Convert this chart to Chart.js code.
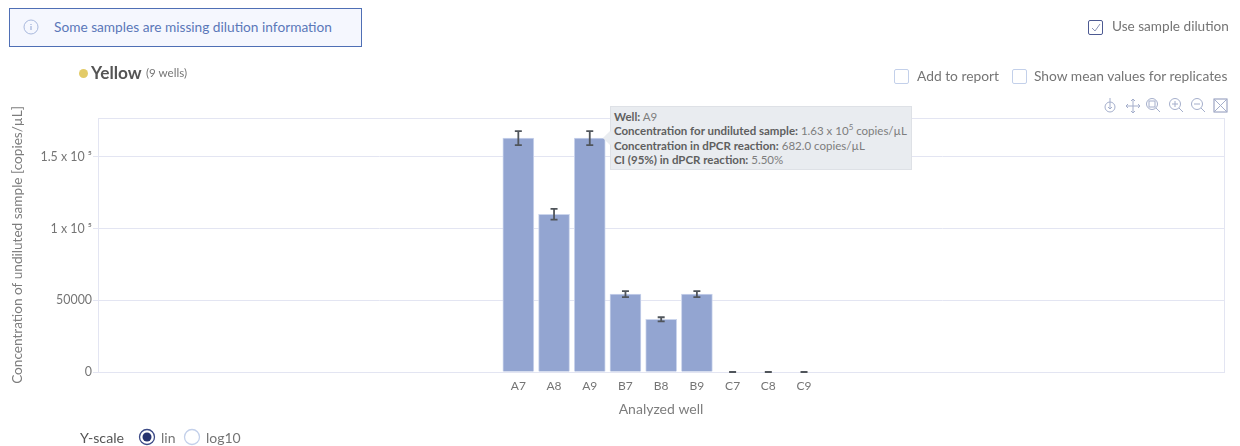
<!doctype html>
<html>

<head>
    <title>Analyzed well concentration</title>
    <script src="https://cdn.jsdelivr.net/npm/chart.js@4"></script>
    <style>
    html, body { margin: 0; padding: 0; background: #fff; overflow: hidden; }
    body { width: 1240px; height: 446px; position: relative; font-family: Lato, "Open Sans", sans-serif; color: #757575; }
    canvas { position: absolute; left: 0; top: 0; }
    .abs { position: absolute; white-space: nowrap; }
    .box { position: absolute; width: 13px; height: 13px; border: 1.5px solid #c3d0ea; border-radius: 2px; box-sizing: content-box; }
    .alert { left: 9px; top: 8px; width: 351px; height: 37px; border: 1px solid #4f6fb5; background: #f5f7fe; }
    .tip { left: 610px; top: 106px; background: #e9ecf0; border: 1px solid #dee1e6; font-size: 11.5px; line-height: 14.4px; color: #7d7d7d; padding: 3px 0 0 3px; box-sizing: border-box; width: 302px; height: 64px; }
    .tip b { color: #5f5f5f; }
    .tip sup { font-size: 8px; line-height: 0; }
    .tip:before { content: ""; position: absolute; left: -6px; top: 26px; width: 10px; height: 10px; background: #e9ecf0; transform: rotate(45deg); }
    .tip div { position: relative; }
    </style>
</head>

<body>
    <canvas id="canvas" width="1240" height="446"></canvas>

    <div class="abs alert"></div>
    <svg class="abs" style="left:23px;top:19px" width="16" height="16"><circle cx="8" cy="8" r="7" fill="none" stroke="#a9b9dd" stroke-width="1"/><path d="M8 7v4M8 5v1" stroke="#8fa3d2" stroke-width="1"/></svg>
    <div class="abs" style="left:54px;top:18px;font-size:13.7px;color:#5b78b9">Some samples are missing dilution information</div>

    <div class="box" style="left:1088px;top:20px;border-color:#4d5a92"></div>
    <svg class="abs" style="left:1088px;top:20px" width="16" height="16"><path d="M4 8l3 3 5-7" fill="none" stroke="#8a94b8" stroke-width="1"/></svg>
    <div class="abs" style="left:1112px;top:18px;font-size:13.6px">Use sample dilution</div>

    <div class="abs" style="left:79px;top:69px;width:9px;height:9px;border-radius:50%;background:#e3cb68"></div>
    <div class="abs" style="left:91px;top:62px;font-size:17.3px;font-weight:700;color:#555">Yellow</div>
    <div class="abs" style="left:146px;top:66px;font-size:11.6px">(9 wells)</div>

    <div class="box" style="left:894px;top:69px"></div>
    <div class="abs" style="left:917px;top:67px;font-size:13.8px">Add to report</div>
    <div class="box" style="left:1012px;top:69px"></div>
    <div class="abs" style="left:1034px;top:67px;font-size:13.8px">Show mean values for replicates</div>

    <svg class="abs" style="left:1102px;top:97px" width="127" height="17" fill="none" stroke="#a4aecb" stroke-width="1">
        <circle cx="8" cy="10" r="5"/><path d="M8 1v11M6 10l2 2 2-2"/>
        <path d="M24 9h14M31 2v14M26 7l-2 2 2 2M36 7l2 2-2 2M29 4l2-2 2 2M29 14l2 2 2-2"/>
        <circle cx="50" cy="7" r="5.5"/><rect x="47" y="4" width="6" height="6"/><path d="M54 11l4 4"/>
        <circle cx="73" cy="7" r="5.5"/><path d="M70 7h6M73 4v6M77 11l4 4"/>
        <circle cx="95" cy="7" r="5.5"/><path d="M92 7h6M99 11l4 4"/>
        <rect x="112" y="2" width="13" height="13" stroke="#8a94b8"/><path d="M113 3l11 11M124 3l-11 11" />
    </svg>

    <div class="abs tip">
        <div><b>Well:</b> A9</div>
        <div><b>Concentration for undiluted sample:</b> 1.63 x 10<sup>5</sup> copies/µL</div>
        <div><b>Concentration in dPCR reaction:</b> 682.0 copies/µL</div>
        <div><b>CI (95%) in dPCR reaction:</b> 5.50%</div>
    </div>

    <div class="abs" style="left:80px;top:429px;font-size:14.2px;color:#555">Y-scale</div>
    <svg class="abs" style="left:138px;top:428px" width="18" height="18"><circle cx="9" cy="9" r="7.5" fill="none" stroke="#3c4a86" stroke-width="1.3"/><circle cx="9" cy="9" r="4.5" fill="#26336f"/></svg>
    <div class="abs" style="left:161px;top:429px;font-size:14px">lin</div>
    <svg class="abs" style="left:183px;top:428px" width="18" height="18"><circle cx="9" cy="9" r="7.5" fill="none" stroke="#c3d0ea" stroke-width="1.3"/></svg>
    <div class="abs" style="left:206px;top:429px;font-size:14px">log10</div>

    <script>
    var wells = ["A7", "A8", "A9", "B7", "B8", "B9", "C7", "C8", "C9"];
    var concentration = [163200, 110000, 163200, 54400, 36700, 54400, 0, 0, 0];
    var ciLow = [158300, 106300, 158300, 52300, 35300, 52300, 0, 0, 0];
    var ciHigh = [168100, 113800, 168100, 56400, 38200, 56400, 0, 0, 0];
    var yTickValues = [0, 50000, 100000, 150000];
    var yTickLabels = ["0", "50000", "1 x 10 ⁵", "1.5 x 10 ⁵"];

    var frameAndErrors = {
        id: 'frameAndErrors',
        beforeDatasetsDraw: function(chart) {
            var a = chart.chartArea, ctx = chart.ctx;
            ctx.save();
            ctx.strokeStyle = '#e3e5f2';
            ctx.lineWidth = 1;
            ctx.strokeRect(a.left + 0.5, a.top + 0.5, a.width, a.height);
            ctx.restore();
        },
        afterDatasetsDraw: function(chart) {
            var x = chart.scales.x, y = chart.scales.y, ctx = chart.ctx;
            ctx.save();
            ctx.strokeStyle = '#50555b';
            ctx.lineWidth = 1.8;
            wells.forEach(function(w, i) {
                var px = x.getPixelForValue(i);
                var lo = y.getPixelForValue(ciLow[i]);
                var hi = y.getPixelForValue(ciHigh[i]);
                ctx.beginPath();
                ctx.moveTo(px - 3.5, hi); ctx.lineTo(px + 3.5, hi);
                ctx.moveTo(px, hi); ctx.lineTo(px, lo);
                ctx.moveTo(px - 3.5, lo); ctx.lineTo(px + 3.5, lo);
                ctx.stroke();
            });
            ctx.restore();
        }
    };

    new Chart(document.getElementById('canvas'), {
        type: 'bar',
        data: {
            datasets: [{
                data: concentration.map(function(v, i) { return {x: i, y: v}; }),
                backgroundColor: '#93a5d1',
                borderColor: '#cbd5ec',
                borderWidth: 1,
                barThickness: 31
            }]
        },
        options: {
            responsive: false,
            animation: false,
            layout: {padding: {left: 9, top: 118, right: 16, bottom: 28}},
            plugins: {legend: {display: false}, tooltip: {enabled: false}},
            scales: {
                x: {
                    type: 'linear',
                    offset: false,
                    bounds: 'data',
                    min: -11.77,
                    max: 19.76,
                    afterFit: function(s) { s.height = 46; },
                    afterBuildTicks: function(s) {
                        s.ticks = wells.map(function(w, i) { return {value: i}; });
                    },
                    grid: {display: false, drawTicks: false},
                    border: {display: false},
                    title: {display: true, text: 'Analyzed well', color: '#7d7d7d', font: {family: 'Lato', size: 14}, padding: {top: 4, bottom: 0}},
                    ticks: {
                        autoSkip: false,
                        maxRotation: 0,
                        padding: 7,
                        color: '#757575',
                        font: {family: 'Lato', size: 12},
                        callback: function(v) { return wells[v]; }
                    }
                },
                y: {
                    bounds: 'data',
                    min: 0,
                    max: 177200,
                    afterFit: function(s) { s.width = 89; },
                    afterBuildTicks: function(s) {
                        s.ticks = yTickValues.map(function(v) { return {value: v}; });
                    },
                    grid: {color: '#e3e5f2', tickLength: 5},
                    border: {display: false},
                    title: {display: true, text: 'Concentration of undiluted sample [copies/µL]', color: '#7d7d7d', font: {family: 'Lato', size: 13.6}, padding: 0},
                    ticks: {
                        autoSkip: false,
                        padding: 1,
                        color: '#757575',
                        font: {family: 'Lato', size: 12.4},
                        callback: function(v) { return yTickLabels[yTickValues.indexOf(v)]; }
                    }
                }
            }
        },
        plugins: [frameAndErrors]
    });
    </script>
</body>

</html>
